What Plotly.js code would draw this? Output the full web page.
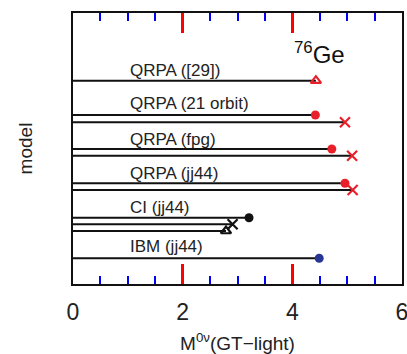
<!DOCTYPE html>
<html>
<head>
<meta charset="utf-8">
<script src="https://cdn.plot.ly/plotly-3.0.1.min.js"></script>
<style>html,body{margin:0;padding:0;background:#fff;}#chart{width:407px;height:354px;}</style>
</head>
<body>
<div id="chart"></div>
<script>
// One entry per horizontal line
var rowY      = [20.33, 16.9, 16.17, 13.5, 12.83, 10.07, 9.4, 6.63, 5.97, 5.3, 2.57];
var rowValues = [4.43, 4.42, 4.96, 4.72, 5.09, 4.96, 5.10, 3.21, 2.91, 2.79, 4.49];
var rowSymbol = ['triangle-up-open', 'circle', 'x-thin-open', 'circle', 'x-thin-open', 'circle', 'x-thin-open', 'circle', 'x-thin-open', 'triangle-up-open', 'circle'];
var rowColor  = ['#e8202a', '#e8202a', '#e8202a', '#e8202a', '#e8202a', '#e8202a', '#e8202a', '#111111', '#111111', '#111111', '#283593'];

var modelLabels = ['QRPA ([29])', 'QRPA (21 orbit)', 'QRPA (fpg)', 'QRPA (jj44)', 'CI (jj44)', 'IBM (jj44)'];
var labelY      = [21.4, 18.1, 14.5, 11.1, 7.7, 3.73];

var traces = [];
for (var i = 0; i < rowY.length; i++) {
  traces.push({
    x: [0, rowValues[i]], y: [rowY[i], rowY[i]],
    mode: 'lines', line: {color: '#111111', width: 2},
    hoverinfo: 'skip', showlegend: false
  });
}
for (var j = 0; j < rowY.length; j++) {
  var sym = rowSymbol[j];
  traces.push({
    x: [rowValues[j]], y: [rowY[j]], mode: 'markers', showlegend: false,
    marker: {
      symbol: sym,
      size: sym === 'circle' ? 9 : (sym.indexOf('x') === 0 ? 10 : 9),
      color: rowColor[j],
      line: {color: rowColor[j], width: sym === 'circle' ? 0 : 2.2}
    }
  });
}

var annotations = [];
for (var k = 0; k < modelLabels.length; k++) {
  annotations.push({
    x: 1.0, y: labelY[k], xref: 'x', yref: 'y', text: modelLabels[k],
    showarrow: false, xanchor: 'left', yanchor: 'middle',
    font: {size: 17, color: '#222222', family: 'Liberation Sans, Arial, sans-serif'}
  });
}
annotations.push({
  x: 4.0, y: 23.1, xref: 'x', yref: 'y', text: '<sup>76</sup>Ge',
  showarrow: false, xanchor: 'left', yanchor: 'middle',
  font: {size: 24, color: '#111111', family: 'Liberation Sans, Arial, sans-serif'}
});

var layout = {
  width: 407, height: 354,
  margin: {l: 73, r: 5, t: 13, b: 70},
  font: {family: 'Liberation Sans, Arial, sans-serif', color: '#222222'},
  xaxis: {
    range: [0, 6], dtick: 2,
    ticks: 'inside', ticklen: 20, tickwidth: 3, tickcolor: 'red',
    minor: {dtick: 0.5, ticks: 'inside', ticklen: 8, tickwidth: 2, tickcolor: 'blue'},
    showgrid: false, zeroline: false,
    showline: true, linecolor: '#111111', linewidth: 2, mirror: 'allticks',
    tickfont: {size: 23, color: '#222222'},
    ticklabeloverflow: 'allow', ticklabelstandoff: 6,
    title: {text: 'M<sup>0ν</sup>(GT−light)', font: {size: 19, color: '#222222'}, standoff: 19}
  },
  yaxis: {
    range: [0, 27.1], showticklabels: false,
    showgrid: false, zeroline: false,
    showline: true, linecolor: '#111111', linewidth: 2, mirror: true,
    title: {text: 'model', font: {size: 19, color: '#222222'}, standoff: 33}
  },
  annotations: annotations
};

Plotly.newPlot('chart', traces, layout, {displayModeBar: false, staticPlot: true});
</script>
</body>
</html>
